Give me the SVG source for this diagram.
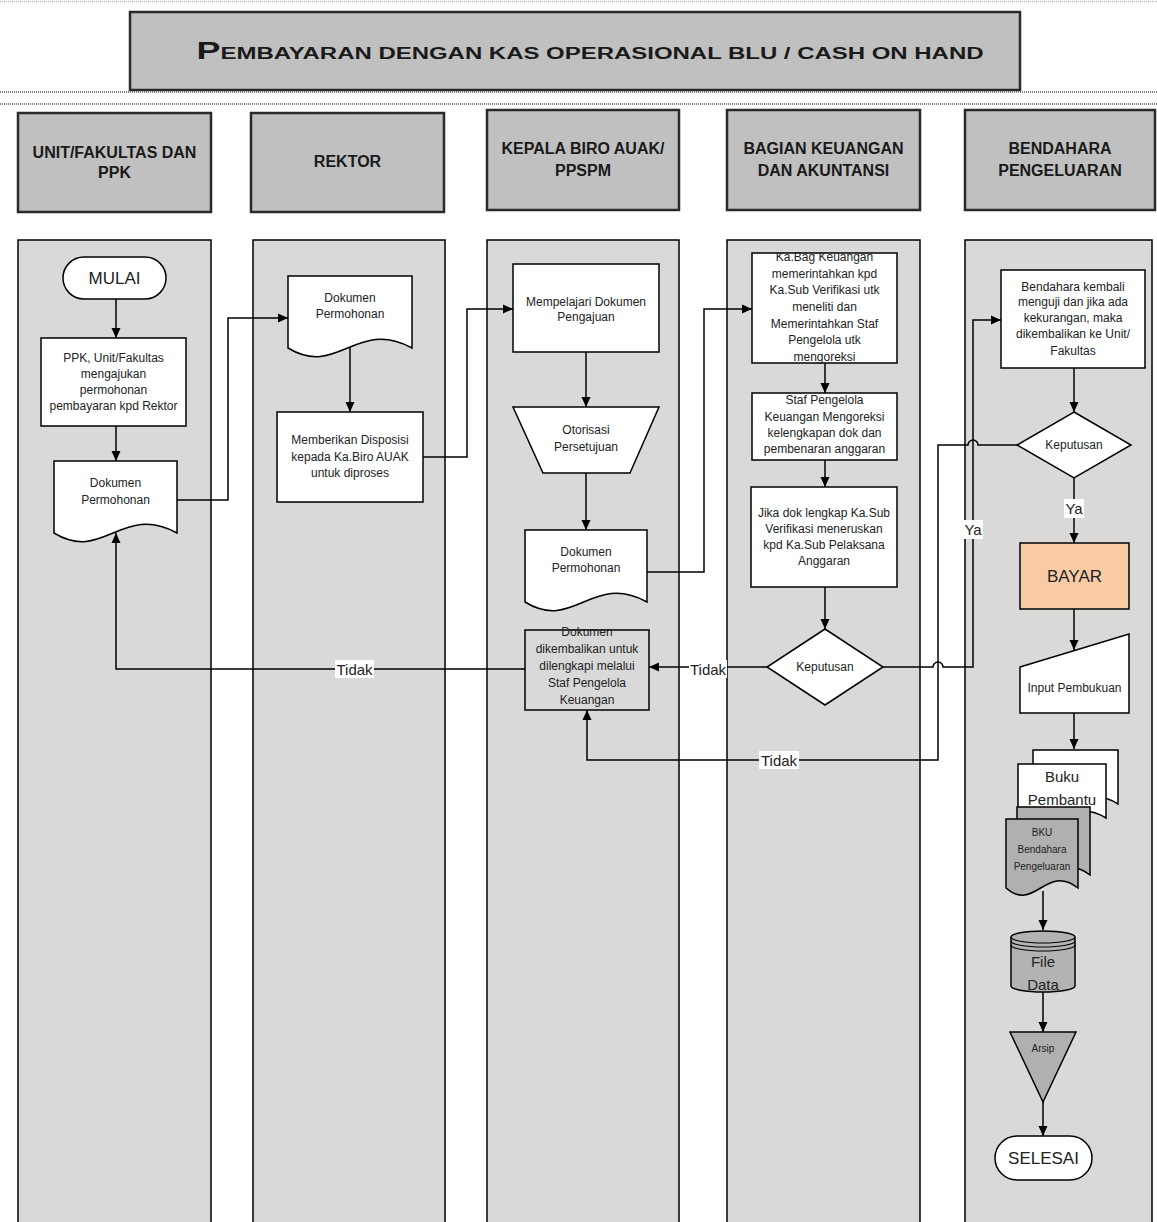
<svg xmlns="http://www.w3.org/2000/svg" width="1157" height="1222" viewBox="0 0 1157 1222">
<defs>
<marker id="arr" viewBox="0 0 10 10" refX="10" refY="5" markerWidth="11" markerHeight="10" markerUnits="userSpaceOnUse" orient="auto"><path d="M0,0.5 L10,5 L0,9.5 z" fill="#000"/></marker>
<style>
.lane{fill:#d9d9d9;stroke:#000;stroke-width:1.5}
.hdr{fill:#c0c0c0;stroke:#2a2a2a;stroke-width:2.5}
.box{fill:#fff;stroke:#000;stroke-width:1.5}
.gry{fill:#b0b0b0;stroke:#000;stroke-width:1.5}
.t{font-family:"Liberation Sans",Arial,sans-serif;font-size:12px;fill:#222;text-anchor:middle}
.h{font-family:"Liberation Sans",Arial,sans-serif;font-size:16px;font-weight:bold;fill:#1a1a1a;text-anchor:middle}
.big{font-size:17px}
.mid{font-size:15px}
.sm{font-size:10px}
.conn{fill:none;stroke:#000;stroke-width:1.5;marker-end:url(#arr)}
.dot{stroke:#555;stroke-width:1.5;stroke-dasharray:1 1}
.lbl{fill:#fff}
</style>
</defs>
<rect width="1157" height="1222" fill="#fff"/>
<line class="dot" x1="0" y1="1.5" x2="1157" y2="1.5" stroke-opacity="0.4"/>
<g id="title">
<rect x="130" y="12" width="890" height="78" class="hdr"/>
<text x="590" y="59" class="h" font-size="19" textLength="787" lengthAdjust="spacingAndGlyphs"><tspan font-size="24">P</tspan>EMBAYARAN DENGAN KAS OPERASIONAL BLU / CASH ON HAND</text>
</g>
<line class="dot" x1="0" y1="92" x2="1157" y2="92"/>
<line class="dot" x1="0" y1="104" x2="1157" y2="104"/>
<g id="headers">
<g id="hdr1"><rect x="18" y="113" width="193" height="99" class="hdr"/><text x="114.5" y="158" class="h">UNIT/FAKULTAS DAN</text><text x="114.5" y="178" class="h">PPK</text></g>
<g id="hdr2"><rect x="251" y="113" width="193" height="99" class="hdr"/><text x="347.5" y="167" class="h">REKTOR</text></g>
<g id="hdr3"><rect x="487" y="110" width="192" height="100" class="hdr"/><text x="583" y="154" class="h">KEPALA BIRO AUAK/</text><text x="583" y="176" class="h">PPSPM</text></g>
<g id="hdr4"><rect x="727" y="110" width="193" height="100" class="hdr"/><text x="823.5" y="154" class="h">BAGIAN KEUANGAN</text><text x="823.5" y="176" class="h">DAN AKUNTANSI</text></g>
<g id="hdr5"><rect x="965" y="110" width="190" height="100" class="hdr"/><text x="1060" y="154" class="h">BENDAHARA</text><text x="1060" y="176" class="h">PENGELUARAN</text></g>
</g>
<g id="lanes">
<rect x="18" y="240" width="193" height="990" class="lane"/>
<rect x="253" y="240" width="192" height="990" class="lane"/>
<rect x="487" y="240" width="192" height="990" class="lane"/>
<rect x="727" y="240" width="193" height="990" class="lane"/>
<rect x="965" y="240" width="187" height="990" class="lane"/>
</g>
<g id="connectors">
<path class="conn" d="M116,299 V338"/>
<path class="conn" d="M116,426 V461"/>
<path class="conn" d="M177,500 H228 V318 H288"/>
<path class="conn" d="M350,346 V412"/>
<path class="conn" d="M423,457 H467 V309 H513"/>
<path class="conn" d="M586,352 V407"/>
<path class="conn" d="M586,473 V530"/>
<path class="conn" d="M647,572 H704 V309 H752"/>
<path class="conn" d="M825,363 V393"/>
<path class="conn" d="M825,460 V487"/>
<path class="conn" d="M825,587 V629"/>
<path class="conn" d="M767,667 H649"/>
<path class="conn" d="M525,669 H116 V533"/>
<path class="conn" d="M883,667 H933 a5,5 0 0 1 10,0 H973 V320 H1001"/>
<path class="conn" d="M1017,445 H978 a5,5 0 0 0 -10,0 H938 V760 H587 V710"/>
<path class="conn" d="M1074,368 V412"/>
<path class="conn" d="M1074,478 V543"/>
<path class="conn" d="M1074,609 V650"/>
<path class="conn" d="M1074,713 V749"/>
<path class="conn" d="M1043,891 V930"/>
<path class="conn" d="M1043,992 V1032"/>
<path class="conn" d="M1043,1102 V1136"/>
<g id="labels">
<rect x="335" y="660" width="39" height="18" class="lbl"/><text x="354.5" y="675" class="t mid">Tidak</text>
<rect x="689" y="660" width="38" height="18" class="lbl"/><text x="708" y="675" class="t mid">Tidak</text>
<rect x="759" y="751" width="40" height="18" class="lbl"/><text x="779" y="766" class="t mid">Tidak</text>
<rect x="1064" y="499" width="20" height="19" class="lbl"/><text x="1074" y="514" class="t mid">Ya</text>
<rect x="963" y="520" width="20" height="19" class="lbl"/><text x="973" y="535" class="t mid">Ya</text>
</g>
</g>
<g id="mulai"><rect x="63" y="257" width="103" height="42" rx="21" class="box"/><text x="114.5" y="284" class="t big">MULAI</text></g>
<g id="ppk-ajukan"><rect x="41" y="338" width="145" height="88" class="box"/>
<text x="113.5" y="362" class="t">PPK, Unit/Fakultas</text><text x="113.5" y="378" class="t">mengajukan</text><text x="113.5" y="394" class="t">permohonan</text><text x="113.5" y="410" class="t">pembayaran kpd Rektor</text></g>
<g id="dok1"><path d="M54,461 H177 V533 C121.6,503 103.2,563 54,533 Z" class="box"/><text x="115.5" y="487" class="t">Dokumen</text><text x="115.5" y="504" class="t">Permohonan</text></g>
<g id="dok2"><path d="M288,276 H412 V348 C356.2,318 337.6,378 288,348 Z" class="box"/><text x="350" y="302" class="t">Dokumen</text><text x="350" y="318" class="t">Permohonan</text></g>
<g id="disposisi"><rect x="277" y="412" width="146" height="90" class="box"/><text x="350" y="444" class="t">Memberikan Disposisi</text><text x="350" y="461" class="t">kepada Ka.Biro AUAK</text><text x="350" y="477" class="t">untuk diproses</text></g>
<g id="mempelajari"><rect x="513" y="264" width="146" height="88" class="box"/><text x="586" y="306" class="t">Mempelajari Dokumen</text><text x="586" y="321" class="t">Pengajuan</text></g>
<g id="otorisasi"><path d="M513,407 H659 L630,473 H543 Z" class="box"/><text x="586" y="434" class="t">Otorisasi</text><text x="586" y="451" class="t">Persetujuan</text></g>
<g id="dok3"><path d="M525,530 H647 V602 C592.1,572 573.8,632 525,602 Z" class="box"/><text x="586" y="556" class="t">Dokumen</text><text x="586" y="572" class="t">Permohonan</text></g>
<g id="dikembalikan"><rect x="525" y="630" width="124" height="80" fill="#d9d9d9" stroke="#000" stroke-width="1.5"/>
<text x="587" y="636" class="t">Dokumen</text><text x="587" y="653" class="t">dikembalikan untuk</text><text x="587" y="670" class="t">dilengkapi melalui</text><text x="587" y="687" class="t">Staf Pengelola</text><text x="587" y="704" class="t">Keuangan</text></g>
<g id="kabag"><rect x="752" y="253" width="145" height="110" class="box"/>
<text x="824.5" y="261" class="t">Ka.Bag Keuangan</text><text x="824.5" y="278" class="t">memerintahkan kpd</text><text x="824.5" y="294" class="t">Ka.Sub Verifikasi utk</text><text x="824.5" y="311" class="t">meneliti dan</text><text x="824.5" y="328" class="t">Memerintahkan Staf</text><text x="824.5" y="344" class="t">Pengelola utk</text><text x="824.5" y="361" class="t">mengoreksi</text></g>
<g id="staf"><rect x="752" y="393" width="145" height="67" class="box"/>
<text x="824.5" y="404" class="t">Staf Pengelola</text><text x="824.5" y="421" class="t">Keuangan Mengoreksi</text><text x="824.5" y="437" class="t">kelengkapan dok dan</text><text x="824.5" y="453" class="t">pembenaran anggaran</text></g>
<g id="jika"><rect x="751" y="487" width="146" height="100" class="box"/>
<text x="824" y="517" class="t">Jika dok lengkap Ka.Sub</text><text x="824" y="533" class="t">Verifikasi meneruskan</text><text x="824" y="549" class="t">kpd Ka.Sub Pelaksana</text><text x="824" y="565" class="t">Anggaran</text></g>
<g id="keputusan1"><path d="M825,629 L883,667 L825,705 L767,667 Z" class="box"/><text x="825" y="671" class="t">Keputusan</text></g>
<g id="bendahara-uji"><rect x="1001" y="270" width="144" height="98" class="box"/>
<text x="1073" y="291" class="t">Bendahara kembali</text><text x="1073" y="306" class="t">menguji dan jika ada</text><text x="1073" y="322" class="t">kekurangan, maka</text><text x="1073" y="338" class="t">dikembalikan ke Unit/</text><text x="1073" y="355" class="t">Fakultas</text></g>
<g id="keputusan2"><path d="M1074,412 L1131,445 L1074,478 L1017,445 Z" class="box"/><text x="1074" y="449" class="t">Keputusan</text></g>
<g id="bayar"><rect x="1020" y="543" width="109" height="66" fill="#f8cba5" stroke="#000" stroke-width="1.5"/><text x="1074.5" y="582" class="t big" fill="#333">BAYAR</text></g>
<g id="input"><path d="M1020,667 L1129,634 V713 H1020 Z" class="box"/><text x="1074.5" y="692" class="t">Input Pembukuan</text></g>
<g id="buku-pembantu">
<path d="M1033,750 H1118 V804 C1079.8,780 1067,828 1033,804 Z" class="box"/>
<path d="M1018,764 H1106 V818 C1066.4,794 1053.2,842 1018,818 Z" class="box"/>
<text x="1062" y="782" class="t mid">Buku</text><text x="1062" y="805" class="t mid">Pembantu</text></g>
<g id="bku">
<path d="M1017,807 H1090 V875 C1057.2,850 1046.2,900 1017,875 Z" class="gry"/>
<path d="M1006,819 H1078 V888 C1045.6,863 1034.8,913 1006,888 Z" class="gry"/>
<text x="1042" y="836" class="t sm">BKU</text><text x="1042" y="853" class="t sm">Bendahara</text><text x="1042" y="870" class="t sm">Pengeluaran</text></g>
<g id="file-data">
<path d="M1011,937 A32,6 0 0 1 1075,937 V986 A32,6 0 0 1 1011,986 Z" fill="#b3b3b3" stroke="#000" stroke-width="1.5"/>
<path d="M1011,937 A32,6 0 0 0 1075,937 M1011,941 A32,6 0 0 0 1075,941 M1011,945 A32,6 0 0 0 1075,945" fill="none" stroke="#000" stroke-width="1.2"/>
<text x="1043" y="967" class="t mid">File</text><text x="1043" y="990" class="t mid">Data</text></g>
<g id="arsip"><path d="M1010,1032 H1076 L1043,1102 Z" class="gry"/><text x="1043" y="1052" class="t sm">Arsip</text></g>
<g id="selesai"><rect x="995" y="1136" width="97" height="44" rx="22" class="box"/><text x="1043.5" y="1164" class="t big">SELESAI</text></g>
</svg>
